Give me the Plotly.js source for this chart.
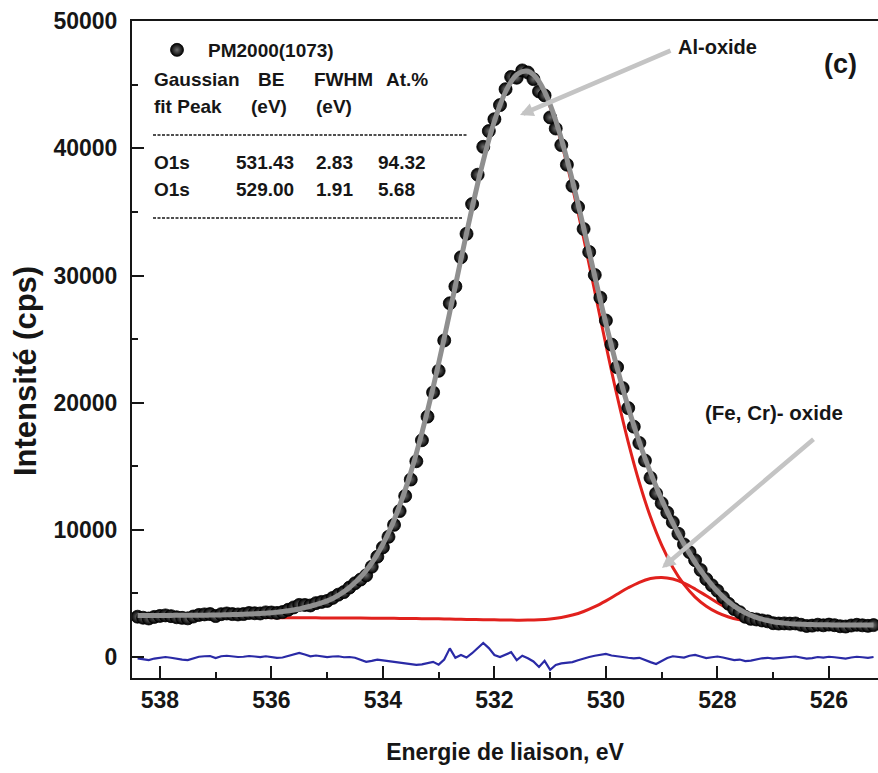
<!DOCTYPE html>
<html><head><meta charset="utf-8">
<script src="https://cdn.plot.ly/plotly-3.0.1.min.js"></script>
<style>html,body{margin:0;padding:0;background:#fff;}#chart{width:878px;height:773px;}</style>
</head><body><div id="chart"></div>
<script>
// ---- data (binding energy in eV, intensity in cps) ----
const energy = [538.4,538.3,538.2,538.1,538.0,537.9,537.8,537.7,537.6,537.5,
537.4,537.3,537.2,537.1,537.0,536.9,536.8,536.7,536.6,536.5,
536.4,536.3,536.2,536.1,536.0,535.9,535.8,535.7,535.6,535.5,
535.4,535.3,535.2,535.1,535.0,534.9,534.8,534.7,534.6,534.5,
534.4,534.3,534.2,534.1,534.0,533.9,533.8,533.7,533.6,533.5,
533.4,533.3,533.2,533.1,533.0,532.9,532.8,532.7,532.6,532.5,
532.4,532.3,532.2,532.1,532.0,531.9,531.8,531.7,531.6,531.5,
531.4,531.3,531.2,531.1,531.0,530.9,530.8,530.7,530.6,530.5,
530.4,530.3,530.2,530.1,530.0,529.9,529.8,529.7,529.6,529.5,
529.4,529.3,529.2,529.1,529.0,528.9,528.8,528.7,528.6,528.5,
528.4,528.3,528.2,528.1,528.0,527.9,527.8,527.7,527.6,527.5,
527.4,527.3,527.2,527.1,527.0,526.9,526.8,526.7,526.6,526.5,
526.4,526.3,526.2,526.1,526.0,525.9,525.8,525.7,525.6,525.5,
525.4,525.3,525.2];

const counts = [3170,3090,3031,3152,3232,3274,3215,3127,3079,3041,
3185,3309,3353,3377,3221,3371,3425,3376,3348,3381,
3461,3442,3426,3511,3500,3467,3537,3714,3900,4097,
4091,4056,4238,4332,4413,4650,4905,5108,5464,5800,
6093,6424,7101,7891,8623,9451,10394,11478,12666,13959,
15396,17049,18907,20808,22508,24896,27817,29147,31437,33284,
35621,37930,40122,41366,42297,43405,44658,45625,45558,46135,
45970,45449,44481,44168,42438,41565,40263,38722,37054,35391,
33664,31856,30048,28262,26464,24572,22797,21151,19578,18119,
16833,15453,14095,12861,12094,11359,10600,9694,8857,8249,
7611,6844,6126,5642,5211,4694,4189,3774,3527,3163,
3001,2953,2876,2807,2660,2633,2645,2627,2639,2537,
2442,2470,2541,2494,2549,2504,2420,2398,2477,2535,
2493,2452,2510];

const envelope = [3270,3270,3271,3272,3272,3274,3275,3277,3279,3281,
3285,3289,3293,3297,3301,3311,3325,3336,3348,3361,
3381,3402,3426,3451,3480,3527,3577,3634,3700,3777,
3891,3996,4118,4252,4413,4610,4845,5128,5464,5860,
6293,6804,7401,8091,8883,9771,10774,11898,13146,14519,
16016,17629,19357,21188,23108,25096,27137,29207,31277,33324,
35321,37230,39022,40666,42137,43405,44458,45245,45798,46035,
46070,45799,45261,44468,43438,42195,40763,39172,37454,35641,
33764,31856,29948,28062,26224,24452,22757,21151,19638,18219,
16893,15653,14495,13411,12394,11439,10540,9694,8897,8149,
7451,6804,6206,5662,5171,4734,4349,4014,3727,3483,
3281,3113,2976,2867,2780,2713,2665,2627,2599,2577,
2562,2550,2541,2534,2529,2524,2520,2518,2517,2515,
2513,2512,2510];

const residual = [-100,-180,-240,-120,-40,0,-60,-150,-200,-240,
-100,20,60,80,-80,60,100,40,0,20,
80,40,0,60,20,-60,-40,80,200,320,
200,60,120,80,0,40,60,-20,0,-60,
-200,-380,-300,-200,-260,-320,-380,-420,-480,-560,
-620,-580,-450,-380,-600,-200,680,-60,160,-40,
300,700,1100,700,160,0,200,380,-240,100,
-100,-350,-780,-300,-1000,-630,-500,-450,-400,-250,
-100,0,100,200,240,120,40,0,-60,-100,
-60,-200,-400,-550,-300,-80,60,0,-40,100,
160,40,-80,-20,40,-40,-160,-240,-200,-320,
-280,-160,-100,-60,-120,-80,-20,0,40,-40,
-120,-80,0,-40,20,-20,-100,-120,-40,20,
-20,-60,0];

const componentEnergy = [538.4,538.2,538.0,537.8,537.6,537.4,537.2,537.0,536.8,536.6,
536.4,536.2,536.0,535.8,535.6,535.4,535.2,535.0,534.8,534.6,
534.4,534.2,534.0,533.8,533.6,533.4,533.2,533.0,532.8,532.6,
532.4,532.2,532.0,531.8,531.6,531.4,531.2,531.0,530.8,530.6,
530.4,530.2,530.0,529.8,529.6,529.4,529.2,529.0,528.8,528.6,
528.4,528.2,528.0,527.8,527.6,527.4,527.2,527.0,526.8,526.6,
526.4,526.2,526.0,525.8,525.6,525.4,525.2];

const peakAlOxide = [3270,3271,3272,3275,3279,3285,3293,3301,3325,3348,
3381,3426,3480,3577,3700,3891,4118,4413,4845,5464,
6293,7401,8883,10774,13146,16016,19357,23108,27137,31277,
35321,39022,42133,44449,45777,46025,45171,43267,40458,36942,
32956,28747,24544,20547,16902,13706,11003,8794,7048,5710,
4715,3996,3491,3148,2919,2769,2671,2609,2575,2554,
2541,2532,2525,2520,2517,2513,2510];

const peakFeCrOxide = [3150,3146,3142,3137,3133,3129,3125,3121,3117,3112,
3108,3104,3100,3095,3090,3085,3080,3075,3070,3065,
3060,3055,3050,3040,3030,3020,3010,3000,2984,2968,
2952,2936,2924,2909,2901,2905,2930,2991,3109,3300,
3580,3957,4420,4934,5444,5879,6168,6260,6138,5819,
5354,4814,4270,3781,3378,3072,2855,2711,2627,2578,
2551,2536,2527,2520,2517,2513,2510];

// ---- table text ----
const sampleName = 'PM2000(1073)';
const headerLine1 = ['Gaussian','BE','FWHM','At.%'];
const headerLine2 = ['fit Peak','(eV)','(eV)'];
const peakNames = ['O1s','O1s'];
const bindingEnergy = ['531.43','529.00'];
const fwhmValues = ['2.83','1.91'];
const atomicPercent = ['94.32','5.68'];

// ---- layout helpers (pixel -> paper) ----
const L=132, R=878, T=21, B=678;
const px = p => (p-L)/(R-L);
const py = p => (B-p)/(B-T);
const FONT = '"Liberation Sans", Arial, Helvetica, sans-serif';
const INK = '#161616';

const annotations = [];
function txt(text, xpx, ypx, size, weight, anchor, angle){
  annotations.push({text:text, xref:'paper', yref:'paper', x:px(xpx), y:py(ypx),
    xanchor:anchor||'left', yanchor:'middle', showarrow:false, textangle:angle||0,
    font:{family:FONT, size:size, color:INK, weight:weight||'bold'}});
}
const h1x=[152,256,312,384], h2x=[152,249,314], rx=[152,234,314,376];
headerLine1.forEach((t,i)=>txt(t,h1x[i],79,19));
headerLine2.forEach((t,i)=>txt(t,h2x[i],106,19));
const rowY=[162,189];
peakNames.forEach((n,i)=>{
  txt(n,rx[0],rowY[i],19); txt(bindingEnergy[i],rx[1],rowY[i],19);
  txt(fwhmValues[i],rx[2],rowY[i],19); txt(atomicPercent[i],rx[3],rowY[i],19);
});
txt('(c)',840,64,27,'bold','center');
txt('Al-oxide',717,47,20,'bold','center');
txt('(Fe, Cr)- oxide',774,412,20.5,'bold','center');
// y-axis title (placed like the original, slightly below plot centre)
annotations.push({text:'Intensité (cps)', xref:'paper', yref:'paper', x:px(25), y:py(371),
  xanchor:'center', yanchor:'middle', showarrow:false, textangle:-90,
  font:{family:FONT, size:31, color:INK, weight:'bold'}});
// arrows
annotations.push({text:'', xref:'paper', yref:'paper', x:px(520), y:py(115), ax:152, ay:-65,
  showarrow:true, arrowhead:2, arrowsize:0.6, arrowwidth:4.5, arrowcolor:'#c4c4c4'});
annotations.push({text:'', xref:'paper', yref:'paper', x:px(662), y:py(568), ax:153, ay:-130,
  showarrow:true, arrowhead:2, arrowsize:0.6, arrowwidth:4.5, arrowcolor:'#c4c4c4'});

const shapes = [
  {type:'line', xref:'paper', yref:'paper', x0:px(153), x1:px(467), y0:py(135), y1:py(135),
   line:{color:INK, width:1.5, dash:'3px,1.5px'}},
  {type:'line', xref:'paper', yref:'paper', x0:px(153), x1:px(463), y0:py(218), y1:py(218),
   line:{color:INK, width:1.5, dash:'3px,1.5px'}}
];

const traces = [
  {x:componentEnergy, y:peakAlOxide, mode:'lines', name:'Al-oxide', showlegend:false,
   line:{color:'#e1211d', width:3, shape:'spline'}},
  {x:componentEnergy, y:peakFeCrOxide, mode:'lines', name:'(Fe, Cr)- oxide', showlegend:false,
   line:{color:'#e1211d', width:3, shape:'spline'}},
  {x:energy, y:counts, mode:'markers', name:sampleName,
   marker:{size:13, color:'#000', gradient:{type:'radial', color:'#6e6e6e'},
           line:{color:'#000', width:0.8}}},
  {x:energy, y:envelope, mode:'lines', name:'fit', showlegend:false,
   line:{color:'#8f8f8f', width:5, shape:'spline'}},
  {x:energy, y:residual, mode:'lines', name:'residual', showlegend:false,
   line:{color:'#2a2aa6', width:2.2}}
];

const axisCommon = {showline:true, linewidth:2, linecolor:INK, ticks:'inside', ticklen:12,
  tickwidth:2, tickcolor:INK, showgrid:false, zeroline:false,
  tickfont:{family:FONT, size:23, color:INK, weight:'bold'}};

const layout = {
  width:878, height:773, margin:{l:L, r:0, t:T, b:773-B},
  paper_bgcolor:'#fff', plot_bgcolor:'#fff',
  font:{family:FONT, color:INK},
  xaxis:Object.assign({}, axisCommon, {
    range:[538.5,525.12], tick0:0, dtick:2, mirror:true, ticklabelstandoff:0,
    minor:{dtick:1, ticks:'inside', ticklen:6, tickwidth:2, tickcolor:INK, showgrid:false},
    title:{text:'Energie de liaison, eV', standoff:32, font:{family:FONT, size:23, color:INK, weight:'bold'}}
  }),
  yaxis:Object.assign({}, axisCommon, {
    range:[-1650,50020], tick0:0, dtick:10000, ticklabelstandoff:8,
    tickformat:'d', exponentformat:'none', separatethousands:false,
    minor:{dtick:5000, ticks:'inside', ticklen:6, tickwidth:2, tickcolor:INK, showgrid:false}
  }),
  legend:{x:px(146), y:py(50), xanchor:'left', yanchor:'middle', bgcolor:'rgba(0,0,0,0)',
    borderwidth:0, itemwidth:52, font:{family:FONT, size:19, color:INK, weight:'bold'}},
  annotations:annotations, shapes:shapes
};

Plotly.newPlot('chart', traces, layout, {displayModeBar:false, staticPlot:true});
</script>
</body></html>
